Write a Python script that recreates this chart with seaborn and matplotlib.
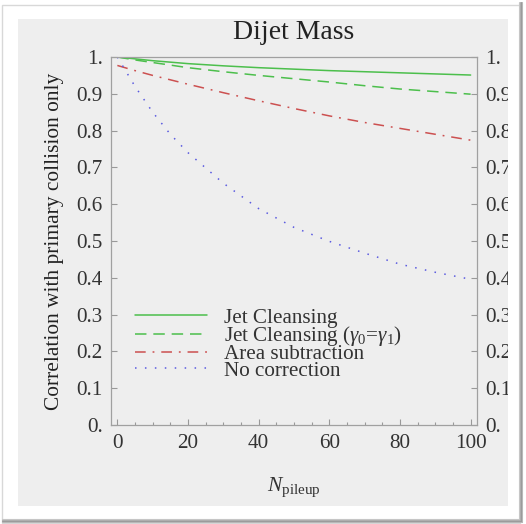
import numpy as np
import pandas as pd
import seaborn as sns
import matplotlib
matplotlib.use("Agg")
import matplotlib.pyplot as plt
from matplotlib.patches import Rectangle
from matplotlib.lines import Line2D
from matplotlib.transforms import Bbox, TransformedBbox

# ---- data -------------------------------------------------------------
n_pileup = [0, 5, 10, 15, 20, 30, 40, 50, 60, 70, 80, 90, 100]
jet_cleansing = [1.000, 0.995, 0.990, 0.986, 0.982, 0.976, 0.971, 0.967,
                 0.963, 0.960, 0.957, 0.954, 0.951]
jet_cleansing_equal = [1.000, 0.992, 0.985, 0.978, 0.971, 0.960, 0.950,
                       0.941, 0.932, 0.922, 0.913, 0.906, 0.899]
area_subtraction = [0.977, 0.963, 0.950, 0.938, 0.926, 0.903, 0.881, 0.860,
                    0.840, 0.822, 0.806, 0.790, 0.774]
no_correction = [1.000, 0.920, 0.850, 0.790, 0.740, 0.657, 0.588, 0.537,
                 0.499, 0.467, 0.437, 0.415, 0.396]

series_names = ["Jet Cleansing",
                r"Jet Cleansing ($\gamma_0$=$\gamma_1$)",
                "Area subtraction",
                "No correction"]
series_values = [jet_cleansing, jet_cleansing_equal, area_subtraction, no_correction]
series_colors = ["#4cbf4c", "#4cbf4c", "#cc5050", "#5a5ae0"]
series_dashes = ["-", (0, (7.5, 4.5)), (0, (7, 4.5, 1.2, 4.5)), (0, (1, 5.5))]

x_ticks = [0, 20, 40, 60, 80, 100]
y_ticks = [0.0, 0.1, 0.2, 0.3, 0.4, 0.5, 0.6, 0.7, 0.8, 0.9, 1.0]
y_tick_labels = ["0.", "0.1", "0.2", "0.3", "0.4", "0.5", "0.6", "0.7",
                 "0.8", "0.9", "1."]

# ---- style ------------------------------------------------------------
sns.set_theme(style="ticks")
plt.rcParams["font.family"] = ["Liberation Serif", "DejaVu Serif"]
plt.rcParams["mathtext.fontset"] = "custom"
plt.rcParams["mathtext.rm"] = "Liberation Serif"
plt.rcParams["mathtext.it"] = "Liberation Serif:italic"
plt.rcParams["mathtext.bf"] = "Liberation Serif:bold"

W, H = 526, 524
panel = "#eeeeee"
fig = plt.figure(figsize=(W / 100, H / 100), dpi=100, facecolor="white")

# grey panel behind the plot
fig.patches.append(Rectangle((18 / W, 1 - 506 / H), (508 - 18) / W, (506 - 19) / H,
                             transform=fig.transFigure, facecolor=panel,
                             edgecolor="none", zorder=-5))
# frame with a soft shadow on the right/bottom
fig.patches.append(Rectangle((1.5 / W, 1.5 / H), (W - 8) / W, (H - 6) / H,
                             transform=fig.transFigure, facecolor="none",
                             edgecolor="#d8d8d8", linewidth=1.0, zorder=-4))
for off, col in [(0, "#c8c8c8"), (1, "#b0b0b0"), (2, "#9a9a9a"), (3, "#b8b8b8")]:
    xr = (W - 7 + off) / W
    yb = 1 - (H - 5 + off) / H
    fig.lines.append(Line2D([xr, xr], [yb, 1 - 2 / H], transform=fig.transFigure,
                            color=col, linewidth=0.8))
    fig.lines.append(Line2D([2 / W, xr], [yb, yb], transform=fig.transFigure,
                            color=col, linewidth=0.8))

ax = fig.add_axes([111 / W, 1 - 425 / H, (477 - 111) / W, (425 - 57) / H])
ax.set_facecolor(panel)

for name, vals, col, ls in zip(series_names, series_values, series_colors, series_dashes):
    df = pd.DataFrame({"N": n_pileup, "corr": vals})
    sns.lineplot(data=df, x="N", y="corr", ax=ax, color=col, linestyle=ls,
                 linewidth=1.1, label=name)

ax.set_xlim(-1.8, 101.8)
ax.set_ylim(0, 1)
ax.set_xticks(x_ticks)
ax.set_xticks(np.arange(0, 101, 5), minor=True)
ax.set_yticks(y_ticks)
ax.set_yticklabels(y_tick_labels)

for sp in ax.spines.values():
    sp.set_color("#a0a0a0")
    sp.set_linewidth(0.9)

ax.tick_params(axis="both", which="both", direction="in", colors="#999999",
               labelcolor="#333333", labelsize=15.2, width=0.8)
ax.tick_params(axis="x", which="major", length=4.0, pad=6.5)
ax.tick_params(axis="x", which="minor", length=2.2)
ax.tick_params(axis="y", which="major", length=4.0, pad=6, right=True, labelright=True)
ax.tick_params(axis="y", which="minor", left=False, right=False)

ax.set_title("Dijet Mass", fontsize=20, color="#222222", pad=13)
ax.set_xlabel(r"$N_{\mathrm{pileup}}$", fontsize=15.5, color="#333333", labelpad=16)
ax.set_ylabel("Correlation with primary collision only", fontsize=15.4,
              color="#222222", labelpad=9)

leg = ax.legend(loc="upper left", bbox_to_anchor=(0.066, 0.318), frameon=False,
                fontsize=15.2, handlelength=3.4, handletextpad=0.8,
                labelspacing=-0.17, borderpad=0, borderaxespad=0)
for t in leg.get_texts():
    t.set_color("#333333")

# right-hand labels are cut off at the edge of the grey panel
clip = TransformedBbox(Bbox([[18 / W, 0], [508 / W, 1]]), fig.transFigure)
for tick in ax.yaxis.get_major_ticks():
    tick.label2.set_clip_box(clip)
    tick.label2.set_clip_on(True)

fig.savefig("out.png", dpi=100, facecolor="white")
